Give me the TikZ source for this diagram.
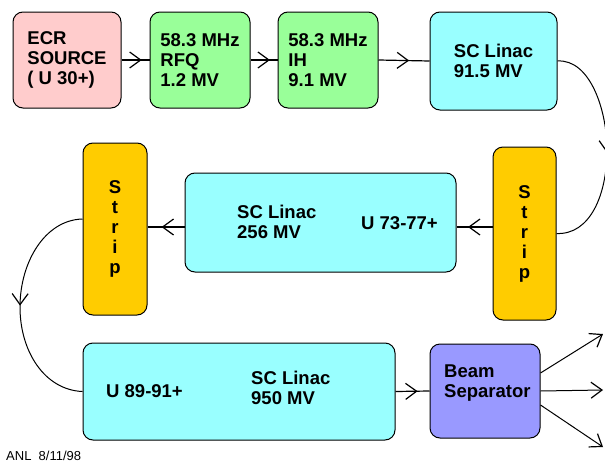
\documentclass[tikz,border=0pt]{standalone}
\usepackage{fontspec}
\setmainfont{Liberation Sans}
\usetikzlibrary{arrows.meta,decorations.markings}
\definecolor{ecrpink}{HTML}{FFCCCC}
\definecolor{rfqgreen}{HTML}{99FF99}
\definecolor{linaccyan}{HTML}{99FFFF}
\definecolor{stripgold}{HTML}{FFCC00}
\definecolor{seppurple}{HTML}{9999FF}
\begin{document}
\begin{tikzpicture}[x=1pt,y=-1pt,
  box/.style={draw,line width=1pt,rounded corners=10pt,align=left,inner sep=0pt,
    font=\fontsize{18.5}{20}\selectfont\bfseries},
  lbl/.style={anchor=west,inner sep=0pt,align=left,font=\fontsize{18.5}{20}\selectfont\bfseries},
  beam/.style={line width=1.2pt},
  midarrow/.style={beam,postaction={decorate},decoration={markings,
    mark=at position #1 with {\arrow{Straight Barb[length=11pt,width=16pt,line width=1.2pt]}}}},
  midarrow/.default=0.65,
  outarrow/.style={line width=1pt,-{Straight Barb[length=11pt,width=16pt,line width=1.2pt]}}]
  \useasboundingbox (0,0) rectangle (605,463);
  \clip (0,0) rectangle (605,463);
  % top row
  \node[box,fill=ecrpink,minimum width=108pt,minimum height=96pt] (ecr) at (67,60) {ECR\\SOURCE\\( U 30+)};
  \node[box,fill=rfqgreen,minimum width=100pt,minimum height=96pt] (rfq) at (200,60) {58.3 MHz\\RFQ\\1.2 MV};
  \node[box,fill=rfqgreen,minimum width=100pt,minimum height=96pt] (ih) at (328,60) {58.3 MHz\\IH\\9.1 MV};
  \node[box,fill=linaccyan,minimum width=127pt,minimum height=98pt] (linacA) at (493.5,61) {SC Linac\\91.5 MV};
  % middle row
  \node[box,fill=stripgold,align=center,minimum width=63pt,minimum height=173pt] (stripA) at (524.5,233.5) {S\\t\\r\\i\\p};
  \node[box,fill=linaccyan,minimum width=271pt,minimum height=99pt] (linacB) at (320.5,222.5) {};
  \node[lbl] (linacBname) at (237,222) {SC Linac\\256 MV};
  \node[lbl] (linacBion) at (361,223) {U 73-77+};
  \node[box,fill=stripgold,align=center,minimum width=64pt,minimum height=172pt] (stripB) at (115,229) {S\\t\\r\\i\\p};
  % bottom row
  \node[box,fill=linaccyan,minimum width=312pt,minimum height=97pt] (linacC) at (239,391.5) {};
  \node[lbl] (linacCion) at (106,391) {U 89-91+};
  \node[lbl] (linacCname) at (251,388) {SC Linac\\950 MV};
  \node[box,fill=seppurple,minimum width=110pt,minimum height=94pt] (sep) at (485,391) {};
  \node[lbl] (sepname) at (444,383) {Beam\\Separator};
  \node[anchor=base west,inner sep=0pt,font=\fontsize{13}{15}\selectfont] (date) at (6,460) {ANL\ \ 8/11/98};
  \coordinate (rowB) at (0,227);
  \coordinate (outA) at (603,334);
  \coordinate (outB) at (603,390);
  \coordinate (outC) at (603,447);
  % connectors
  \draw[midarrow=0.72] (ecr.east) -- (rfq.west);
  \draw[midarrow=0.72] (rfq.east) -- (ih.west);
  \draw[midarrow=0.6] (ih.east) -- (linacA.west);
  \draw[midarrow=0.52,line width=1pt] (linacA.east) .. controls (590,59) and (607,110) .. (607,150)
    .. controls (607,195) and (590,235) .. (stripA.east);
  \draw[midarrow=0.68] (stripA.west |- rowB) -- (linacB.east |- rowB);
  \draw[midarrow=0.62] (linacB.west |- rowB) -- (stripB.east |- rowB);
  \draw[midarrow=0.5,line width=1pt] ([yshift=10pt]stripB.west) .. controls (45,220) and (20,262) .. (20,307)
    .. controls (20,352) and (45,390) .. (linacC.west);
  \draw[midarrow=0.65] (linacC.east) -- (sep.west);
  \draw[outarrow] ([yshift=18pt]sep.east) -- (outA);
  \draw[outarrow] (sep.east) -- (outB);
  \draw[outarrow] ([yshift=-14pt]sep.east) -- (outC);
\end{tikzpicture}
\end{document}
